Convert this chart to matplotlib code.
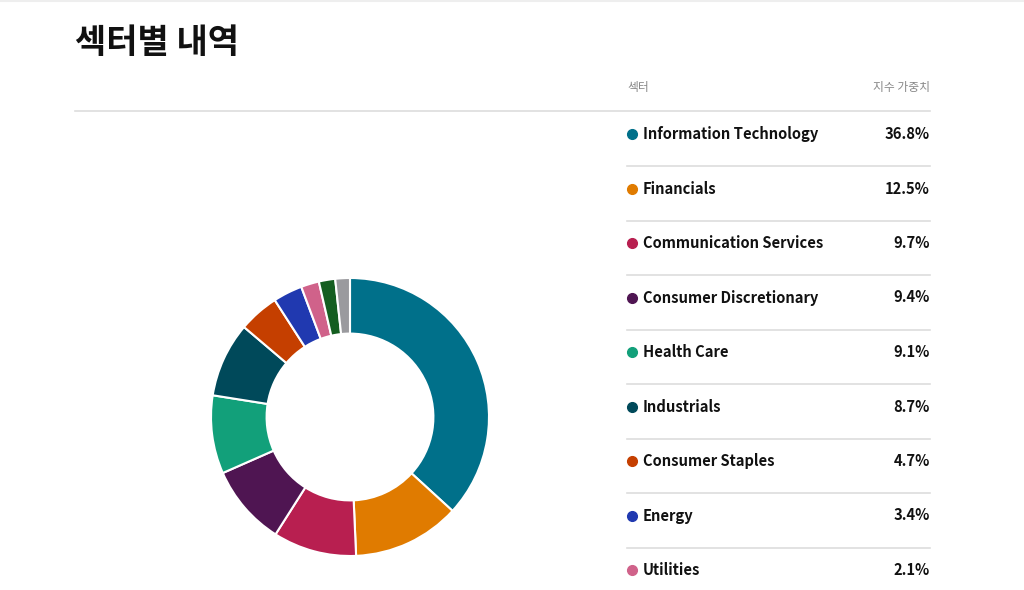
import matplotlib
matplotlib.use("Agg")
import matplotlib.pyplot as plt

plt.rcParams['font.family'] = ['Noto Sans CJK KR', 'DejaVu Sans']

sectors = ["Information Technology", "Financials", "Communication Services",
           "Consumer Discretionary", "Health Care", "Industrials",
           "Consumer Staples", "Energy", "Utilities", "Real Estate", "Materials"]
weights = [36.8, 12.5, 9.7, 9.4, 9.1, 8.7, 4.7, 3.4, 2.1, 1.9, 1.7]
colors = ["#00708a", "#e07b00", "#b81f50", "#4f1552", "#12a07a", "#00495a",
          "#c53f00", "#2039b0", "#d0628a", "#145e20", "#9a9a9e"]

title = "섹터별 내역"
col_header = "섹터"
val_header = "지수 가중치"

W, H = 1024, 590
fig = plt.figure(figsize=(W / 100, H / 100), dpi=100)

# full-figure axes in pixel coords for the table / text
bg = fig.add_axes([0, 0, 1, 1])
bg.set_xlim(0, W)
bg.set_ylim(H, 0)
bg.axis('off')

bg.plot([0, W], [1, 1], color="#eeeeee", lw=1.5)
bg.text(75, 43, title, fontsize=24.5, fontweight='bold', color="#111111",
        va='center', ha='left')
bg.plot([75, 930], [111, 111], color="#dddddd", lw=1.2)

bg.text(627, 87, col_header, fontsize=8.5, color="#888888", va='center', ha='left')
bg.text(930, 87, val_header, fontsize=8.5, color="#888888", va='center', ha='right')

row_top = 134
row_step = 54.5
n_visible = 9  # the rest of the table runs past the bottom edge
for i, (name, w, c) in enumerate(zip(sectors[:n_visible], weights, colors)):
    y = row_top + i * row_step
    bg.plot(632, y, 'o', color=c, markersize=7)
    bg.text(643, y, name, fontsize=10.6, fontweight='bold', color="#111111",
            va='center', ha='left')
    bg.text(930, y, f"{w}%", fontsize=10.6, fontweight='bold', color="#111111",
            va='center', ha='right')
    if i < n_visible - 1:
        bg.plot([627, 930], [y + 32, y + 32], color="#dddddd", lw=1.2)

# donut
cx, cy, r = 350, 417, 139
pie_ax = fig.add_axes([(cx - r) / W, (H - cy - r) / H, 2 * r / W, 2 * r / H])
pie_ax.pie(weights, colors=colors, startangle=90, counterclock=False,
           radius=1.0, wedgeprops=dict(width=0.4, edgecolor='white', linewidth=1.5))
pie_ax.set_xlim(-1.0, 1.0)
pie_ax.set_ylim(-1.0, 1.0)
pie_ax.set_aspect('equal')

fig.savefig("out.png", dpi=100)
